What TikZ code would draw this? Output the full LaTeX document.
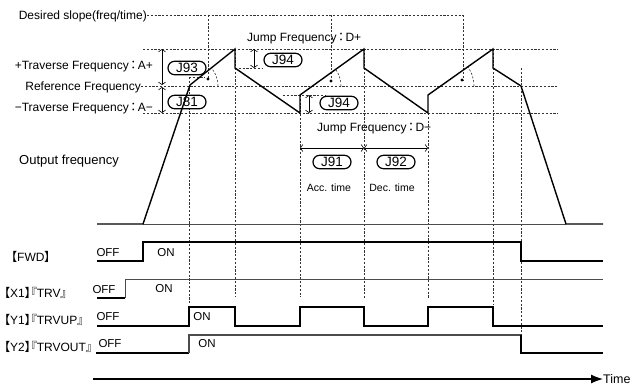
\documentclass[tikz,border=0pt]{standalone}
\usepackage{fontspec}
\setmainfont{Liberation Sans}
\newfontfamily\cjk{Noto Sans CJK JP}
\newfontfamily\cjkp[RawFeature=+palt]{Noto Sans CJK JP}
\newcommand\fwcolon{\kern1.5pt{\cjkp ：}\kern1.5pt}
\usetikzlibrary{arrows.meta}
\begin{document}
\begin{tikzpicture}[x=1pt,y=-1pt,
guide/.style={draw=black!80,line width=0.6pt,dash pattern=on 2.2pt off 1.6pt},
wave/.style={draw=black,line width=1.4pt,line join=miter},
base/.style={draw=black!70,line width=0.9pt},
dim/.style={draw=black,line width=0.6pt,{Straight Barb[length=2.5pt,width=7pt]}-{Straight Barb[length=2.5pt,width=7pt]}},
pill/.style={draw=black,line width=1.2pt,rounded corners=6.7pt,minimum width=38pt,minimum height=13.5pt,inner sep=0pt,font=\fontsize{13.5}{13.5}\selectfont},
lbl/.style={inner sep=0pt,text height=9pt,text depth=1pt,font=\fontsize{12}{14}\selectfont,text=black},
small/.style={inner sep=0pt,text height=7.5pt,text depth=1pt,font=\fontsize{10.5}{12}\selectfont},
state/.style={inner sep=0pt,text height=8.5pt,text depth=0pt,font=\fontsize{11.5}{13}\selectfont}
]
\useasboundingbox (0,0) rectangle (633,386);
\node[lbl,anchor=east] (slope) at (147,15) {Desired slope(freq/time)};
\node[lbl,anchor=east] (apos) at (153,65) {+Traverse Frequency\fwcolon A+};
\node[lbl,anchor=east] (ref) at (141,86) {Reference Frequency};
\node[lbl,anchor=east] (aneg) at (153,107) {−Traverse Frequency\fwcolon A−};
\node[lbl,anchor=west,font=\fontsize{13}{15}\selectfont] (out) at (19,160) {Output frequency};
\node[lbl,anchor=west] (jdp) at (247,37) {Jump Frequency\fwcolon D+};
\node[lbl,anchor=west] (jdm) at (317,127) {Jump Frequency\fwcolon D−};
\draw[guide] (slope.east) -- (463,15);
\draw[guide] (208,15) -- (208,79);
\draw[guide] (331,15) -- (331,81);
\draw[guide] (463,15) -- (463,80);
\draw[guide] (143,49) -- (558,49);
\draw[guide] (ref.east) -- (558,86);
\draw[guide] (143,113) -- (558,113);
\draw[guide] (235,68) -- (263,68);
\draw[guide] (189,77) -- (205,77);
\draw[guide] (283,95) -- (325,95);
\draw[guide] (189,77) -- (189,303);
\draw[guide] (235,49) -- (235,297);
\draw[guide] (300,95) -- (300,297);
\draw[guide] (364,49) -- (364,298);
\draw[guide] (428,113) -- (428,298);
\draw[guide] (493,49) -- (493,305);
\draw[guide] (521,68) -- (521,335);
\draw[guide] (218,86) arc[start angle=0,end angle=-39,radius=28];
\draw[guide] (341,86) arc[start angle=0,end angle=-36,radius=28.5];
\draw[guide] (474,86) arc[start angle=0,end angle=-35,radius=33];
\fill (208,79) circle[radius=1.6pt];
\fill (331,81) circle[radius=1.6pt];
\fill (462,80) circle[radius=1.6pt];
\draw[dim] (162,49) -- (162,85);
\draw[dim] (162,87) -- (162,113);
\draw[dim] (254,49) -- (254,68);
\draw[dim] (309,95) -- (309,113);
\draw[dim] (300,148) -- (364,148);
\draw[dim] (364,148) -- (428,148);
\node[pill,fill=white] (j93) at (187,68) {J93};
\node[pill,fill=white] (j81) at (187,102) {J81};
\node[pill] (j94a) at (283,60) {J94};
\node[pill] (j94b) at (339,103) {J94};
\node[pill] (j91) at (332,162) {J91};
\node[pill] (j92) at (396,162) {J92};
\node[small] (acc) at (329,188) {Acc. time};
\node[small] (dec) at (392,188) {Dec. time};
\draw[base] (143,224) -- (566,224);
\draw[wave] (97,224) -- (143,224) -- (189,88) -- (190,85) -- (235,49) -- (235,68) -- (300,113) -- (300,95) -- (364,49) -- (364,68) -- (428,113) -- (428,95) -- (493,49) -- (493,68) -- (521,86) -- (566,224) -- (603,224);
\node[lbl,anchor=west] (fwd) at (11,257) {{\cjkp 【}FWD{\cjkp 】}};
\node[lbl,anchor=west] (x1) at (4,293) {{\cjkp 【}X1{\cjkp 】『}TRV{\cjkp 』}};
\node[lbl,anchor=west] (y1) at (4,320) {{\cjkp 【}Y1{\cjkp 】『}TRVUP{\cjkp 』}};
\node[lbl,anchor=west] (y2) at (4,347) {{\cjkp 【}Y2{\cjkp 】『}TRVOUT{\cjkp 』}};
\node[state] (fwdoff) at (108,252) {OFF};
\node[state] (fwdon) at (166,252) {ON};
\node[state] (x1off) at (104,289) {OFF};
\node[state] (x1on) at (164,288) {ON};
\node[state] (y1off) at (108,316) {OFF};
\node[state] (y1on) at (202,316) {ON};
\node[state] (y2off) at (110,343) {OFF};
\node[state] (y2on) at (207,343) {ON};
\draw[wave] (97,261) -- (143,261) -- (143,242) -- (521,242) -- (521,261) -- (603,261);
\draw[wave] (97,298) -- (125,298);
\draw[base] (125,298) -- (125,279) -- (603,279);
\draw[wave] (97,326) -- (189,326) -- (189,307) -- (235,307) -- (235,326) -- (300,326) -- (300,307) -- (364,307) -- (364,326) -- (428,326) -- (428,307) -- (493,307) -- (493,326) -- (603,326);
\draw[wave] (96,353) -- (189,353);
\draw[base,line width=1.1pt] (189,353) -- (189,335) -- (521,335);
\draw[wave] (521,335) -- (521,353) -- (603,353);
\node[lbl,anchor=west,font=\fontsize{12.5}{14}\selectfont] (time) at (603,379) {Time};
\draw[draw=black,line width=1.2pt,-{Latex[length=12pt,width=9pt]}] (93,379) -- (time.west);
\end{tikzpicture}
\end{document}
